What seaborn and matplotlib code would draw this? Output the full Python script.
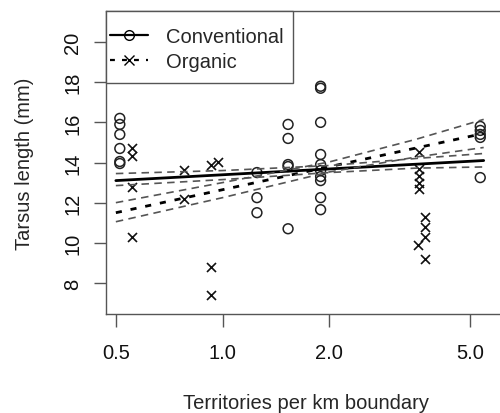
import numpy as np
import pandas as pd
import seaborn as sns
import matplotlib.pyplot as plt
from matplotlib.lines import Line2D
from matplotlib.patches import Rectangle

# -------------------------------------------------
# Data
# -------------------------------------------------

conv_x = [0.513] * 6 + [1.25] * 3 + [1.53] * 5 + [1.89] * 10 + [5.33] * 5
conv_y = [16.2, 15.9, 15.4, 14.7, 14.05, 13.95,
          13.5, 12.25, 11.5,
          15.9, 15.2, 13.9, 13.8, 10.7,
          17.8, 17.7, 16.0, 14.4, 13.9, 13.6, 13.3, 13.1, 12.25, 11.65,
          15.8, 15.6, 15.4, 15.25, 13.25]

org_x = ([0.554] * 4 + [0.78] * 2 + [0.925] * 3 + [0.968]
         + [3.57] * 5 + [3.55] + [3.73] * 4)
org_y = [14.7, 14.35, 12.8, 10.3,
         13.65, 12.2,
         13.9, 8.8, 7.4,
         14.05,
         14.5, 13.7, 13.35, 13.0, 12.7,
         9.9,
         11.3, 10.8, 10.3, 9.2]

# fitted lines and confidence bands
fit_x = [0.5, 5.45]
conv_fit = [13.1, 14.1]
org_fit = [11.5, 15.45]

band_x = [0.5, 1.0, 2.0, 3.5, 5.45]
conv_upper = [13.45, 13.6, 13.85, 14.2, 14.45]
conv_lower = [12.85, 13.15, 13.5, 13.72, 13.78]
org_upper = [12.0, 13.0, 14.03, 15.15, 16.15]
org_lower = [11.05, 12.25, 13.53, 14.27, 14.75]

x_ticks = [0.5, 1.0, 2.0, 5.0]
x_tick_labels = ["0.5", "1.0", "2.0", "5.0"]
y_ticks = [8, 10, 12, 14, 16, 18, 20]

# -------------------------------------------------
# Plot
# -------------------------------------------------

sns.set_style("white")
plt.rcParams['font.family'] = ['Liberation Sans', 'DejaVu Sans']

fig = plt.figure(figsize=(5.0, 4.14), dpi=100)
ax = fig.add_axes([0.212, 0.239, 0.80, 0.732])

frame_col = "#555555"
band_col = "#555555"
fs = 14.5

sns.scatterplot(x=conv_x, y=conv_y, marker="o", s=50,
                facecolors="none", edgecolor="#222222", linewidth=1.1, ax=ax)
sns.scatterplot(x=org_x, y=org_y, marker="x", s=42,
                color="#111111", linewidth=1.2, ax=ax)

sns.lineplot(x=fit_x, y=conv_fit, color="black", linewidth=2.0, ax=ax)
sns.lineplot(x=fit_x, y=org_fit, color="black", linewidth=2.0,
             dashes=False, ax=ax).lines[-1].set_dashes([2.2, 3.2])

for band in [conv_upper, conv_lower, org_upper, org_lower]:
    sns.lineplot(x=band_x, y=band, color=band_col, linewidth=1.2, ax=ax)
    ax.lines[-1].set_dashes([4.5, 3.2])

ax.set_xscale("log")
ax.set_xlim(0.469, 6.3)
ax.set_ylim(6.45, 21.55)

ax.set_xticks(x_ticks)
ax.set_xticklabels(x_tick_labels)
ax.xaxis.set_minor_locator(plt.NullLocator())
ax.set_yticks(y_ticks)
ax.set_yticklabels([str(v) for v in y_ticks], rotation=90, va="center")

ax.tick_params(axis="both", which="both", direction="out", length=9,
               width=1.0, color=frame_col, labelsize=fs, labelcolor="#111111")
ax.tick_params(axis="x", pad=12)
ax.tick_params(axis="y", pad=8)
ax.xaxis.set_ticks_position("bottom")
ax.yaxis.set_ticks_position("left")

for spine in ax.spines.values():
    spine.set_visible(True)
    spine.set_color(frame_col)
    spine.set_linewidth(1.0)

ax.set_xlabel("Territories per km boundary", fontsize=fs, labelpad=22)
ax.set_ylabel("Tarsus length (mm)", fontsize=fs, labelpad=21)

# legend box drawn separately (R legend has more vertical than horizontal padding)
ax.add_patch(Rectangle((0, 1 - 0.2376), 0.4675, 0.2376, transform=ax.transAxes,
                       facecolor="white", edgecolor=frame_col, linewidth=1.0,
                       zorder=5, clip_on=False))

handles = [
    Line2D([], [], color="black", linewidth=1.6, marker="o",
           markerfacecolor="none", markeredgecolor="black", markersize=7),
    Line2D([], [], color="black", linewidth=1.6, linestyle=(0, (2.2, 3.2)),
           marker="x", markeredgecolor="black", markersize=7),
]
leg = ax.legend(handles, ["Conventional", "Organic"], loc="upper left",
                bbox_to_anchor=(0.0, 0.962), fontsize=fs, frameon=False,
                borderaxespad=0, handlelength=1.9, handletextpad=0.9,
                labelspacing=0.3, borderpad=0.2)
leg.set_zorder(6)

plt.savefig("out.png", dpi=100)
plt.close()
